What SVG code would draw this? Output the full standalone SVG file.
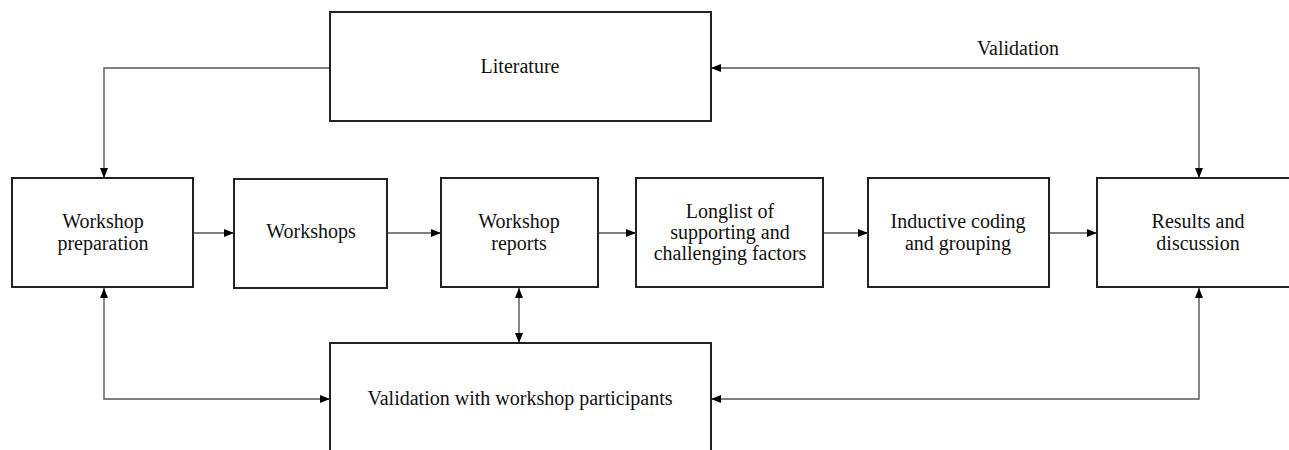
<svg xmlns="http://www.w3.org/2000/svg" width="1289" height="450" viewBox="0 0 1289 450">
<style>
.box{fill:#fff;stroke:#222;stroke-width:2}
.t{font-family:"Liberation Serif","Times New Roman",serif;font-size:20px;fill:#111;text-anchor:middle}
.c{fill:none;stroke:#555;stroke-width:1.4}
</style>
<defs>
<marker id="ah" viewBox="0 0 10 10" refX="10" refY="5" markerWidth="10" markerHeight="10" markerUnits="userSpaceOnUse" orient="auto-start-reverse">
<path d="M0,1 L10,5 L0,9 Z" fill="#000"/>
</marker>
</defs>
<rect width="1289" height="450" fill="#fff"/>
<g id="connectors">
<path class="c" d="M330,68 H104 V178" marker-end="url(#ah)"/>
<path class="c" d="M193,233 H234" marker-end="url(#ah)"/>
<path class="c" d="M387,233 H441" marker-end="url(#ah)"/>
<path class="c" d="M598,233 H636" marker-end="url(#ah)"/>
<path class="c" d="M823,233 H868" marker-end="url(#ah)"/>
<path class="c" d="M1049,233 H1097" marker-end="url(#ah)"/>
<path class="c" d="M711,68 H1199 V178" marker-start="url(#ah)" marker-end="url(#ah)"/>
<path class="c" d="M519,288 V343" marker-start="url(#ah)" marker-end="url(#ah)"/>
<path class="c" d="M104,288 V399 H330" marker-start="url(#ah)" marker-end="url(#ah)"/>
<path class="c" d="M1199,288 V399 H711" marker-start="url(#ah)" marker-end="url(#ah)"/>
<text class="t" x="1018" y="55">Validation</text>
</g>
<g id="literature">
<rect class="box" x="330" y="12" width="381" height="109"/>
<text class="t" x="520" y="73">Literature</text>
</g>
<g id="workshop-preparation">
<rect class="box" x="12" y="178" width="181" height="109"/>
<text class="t" x="103" y="228">Workshop</text>
<text class="t" x="103" y="250">preparation</text>
</g>
<g id="workshops">
<rect class="box" x="234" y="179" width="153" height="109"/>
<text class="t" x="311" y="238">Workshops</text>
</g>
<g id="workshop-reports">
<rect class="box" x="441" y="178" width="157" height="109"/>
<text class="t" x="519" y="228">Workshop</text>
<text class="t" x="519" y="250">reports</text>
</g>
<g id="longlist">
<rect class="box" x="636" y="178" width="187" height="109"/>
<text class="t" x="730" y="218">Longlist of</text>
<text class="t" x="730" y="239">supporting and</text>
<text class="t" x="730" y="260">challenging factors</text>
</g>
<g id="inductive-coding">
<rect class="box" x="868" y="178" width="181" height="109"/>
<text class="t" x="958" y="228">Inductive coding</text>
<text class="t" x="958" y="250">and grouping</text>
</g>
<g id="results">
<rect class="box" x="1097" y="178" width="200" height="109"/>
<text class="t" x="1198" y="228">Results and</text>
<text class="t" x="1198" y="250">discussion</text>
</g>
<g id="validation-participants">
<rect class="box" x="330" y="343" width="381" height="120"/>
<text class="t" x="520" y="405">Validation with workshop participants</text>
</g>
</svg>
